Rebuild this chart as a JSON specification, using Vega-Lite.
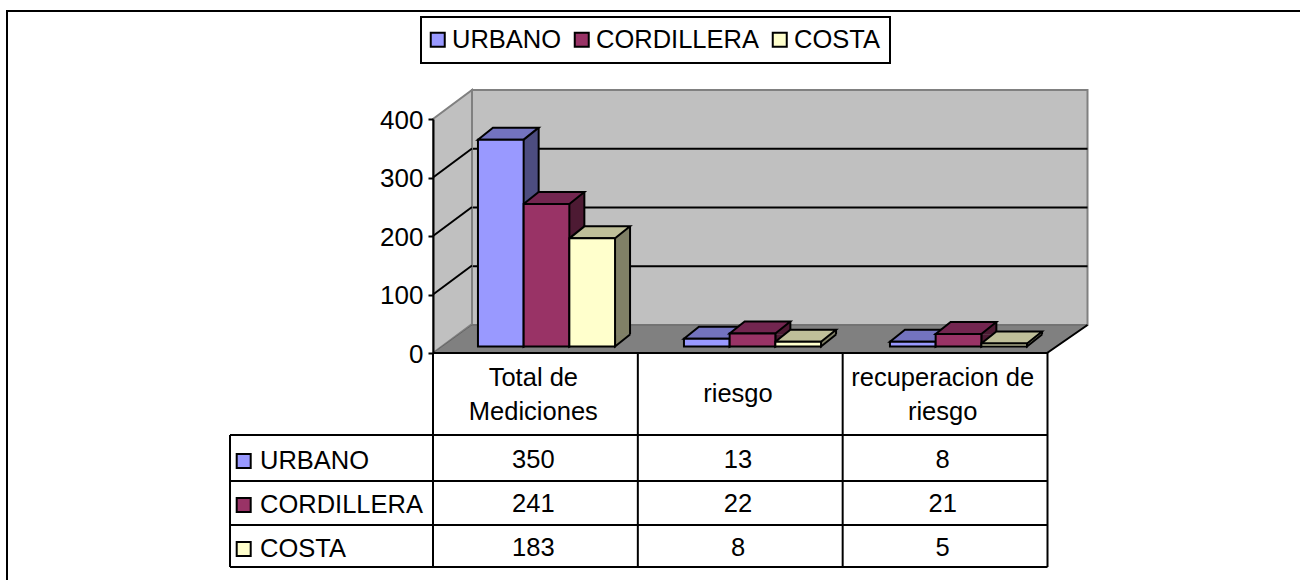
{
"$schema":"https://vega.github.io/schema/vega-lite/v6.json",
"width":1300,"height":580,"padding":0,"autosize":{"type":"none"},"background":"white",
"config":{"view":{"stroke":null},"font":"Liberation Sans","legend":{"strokeWidth":2},"text":{"font":"Liberation Sans","fontSize":25.5,"color":"#000000"}},
"datasets":{
"mediciones":[
{"categoria":"Total de Mediciones","serie":"URBANO","valor":350},
{"categoria":"Total de Mediciones","serie":"CORDILLERA","valor":241},
{"categoria":"Total de Mediciones","serie":"COSTA","valor":183},
{"categoria":"riesgo","serie":"URBANO","valor":13},
{"categoria":"riesgo","serie":"CORDILLERA","valor":22},
{"categoria":"riesgo","serie":"COSTA","valor":8},
{"categoria":"recuperacion de riesgo","serie":"URBANO","valor":8},
{"categoria":"recuperacion de riesgo","serie":"CORDILLERA","valor":21},
{"categoria":"recuperacion de riesgo","serie":"COSTA","valor":5}
],
"uno":[{"p":1}],
"marcas":[{"t":100},{"t":200},{"t":300}],
"ticks":[{"t":0},{"t":100},{"t":200},{"t":300},{"t":400}],
"cabecera2":[{"categoria":"Total de Mediciones","rotulo":"Total de\nMediciones"},{"categoria":"recuperacion de riesgo","rotulo":"recuperacion de\nriesgo"}],
"cabecera1":[{"categoria":"riesgo","rotulo":"riesgo"}],
"series":[{"serie":"URBANO"},{"serie":"CORDILLERA"},{"serie":"COSTA"}],
"filasTabla":[{"f":0},{"f":1},{"f":2},{"f":3}],
"colsAltas":[{"c":1},{"c":2},{"c":3},{"c":4}]
},
"data":{"name":"mediciones"},
"resolve":{"scale":{"x":"independent","y":"independent","color":"independent"}},
"layer":[
{"data":{"name":"uno"},"mark":{"type":"rect","fill":null,"fillOpacity":0,"stroke":"#000000","strokeWidth":2,"clip":true},
"encoding":{"x":{"datum":0,"type":"quantitative","axis":null,"scale":{"domain":[0,1],"range":[7,1320]}},"x2":{"datum":1},"y":{"datum":0,"type":"quantitative","axis":null,"scale":{"domain":[0,1],"range":[11,600]}},"y2":{"datum":1}}},

{"data":{"name":"uno"},"mark":{"type":"rect","fill":"#C0C0C0","stroke":"#808080","strokeWidth":2},
"encoding":{"x":{"datum":0,"type":"quantitative","axis":null,"scale":{"domain":[0,1],"range":[472,1087.5]}},"x2":{"datum":1},"y":{"datum":0,"type":"quantitative","axis":null,"scale":{"domain":[0,400],"range":[325,90]}},"y2":{"datum":400}}},
{"data":{"name":"marcas"},"mark":{"type":"rule","stroke":"#000000","strokeWidth":2},
"encoding":{"x":{"datum":0,"type":"quantitative","axis":null,"scale":{"domain":[0,1],"range":[472,1087.5]}},"x2":{"datum":1},"y":{"field":"t","type":"quantitative","axis":null,"scale":{"domain":[0,400],"range":[325,90]}}}},

{"data":{"name":"uno"},"mark":{"type":"point","filled":true,"opacity":1,"size":4,"shape":"M0,0 L39,-29 L39,-263 L0,-234 Z","fill":"#C0C0C0","stroke":"#808080","strokeWidth":2},
"encoding":{"x":{"datum":0,"type":"quantitative","axis":null,"scale":{"domain":[0,1],"range":[433,1047]}},"y":{"datum":0,"type":"quantitative","axis":null,"scale":{"domain":[0,400],"range":[353,119]}}}},
{"data":{"name":"uno"},"mark":{"type":"point","filled":true,"opacity":1,"size":4,"shape":"M0,0 L39,-28 L654.5,-28 L614,0 Z","fill":"#808080","stroke":"#666666","strokeWidth":1},
"encoding":{"x":{"datum":0,"type":"quantitative","axis":null,"scale":{"domain":[0,1],"range":[433,1047]}},"y":{"datum":0,"type":"quantitative","axis":null,"scale":{"domain":[0,400],"range":[353,119]}}}},
{"data":{"name":"uno"},"mark":{"type":"point","filled":false,"opacity":1,"size":4,"shape":"M0,0 L614,0 L654.5,-28","stroke":"#000000","strokeWidth":2},
"encoding":{"x":{"datum":0,"type":"quantitative","axis":null,"scale":{"domain":[0,1],"range":[433,1047]}},"y":{"datum":0,"type":"quantitative","axis":null,"scale":{"domain":[0,400],"range":[353,119]}}}},
{"data":{"name":"marcas"},"mark":{"type":"point","filled":false,"opacity":1,"size":4,"shape":"M0,0 L39,-29","stroke":"#000000","strokeWidth":2},
"encoding":{"x":{"datum":0,"type":"quantitative","axis":null,"scale":{"domain":[0,1],"range":[433,1047]}},"y":{"field":"t","type":"quantitative","axis":null,"scale":{"domain":[0,400],"range":[353,119]}}}},

{"data":{"name":"ticks"},"mark":{"type":"rule","opacity":0},
"encoding":{"y":{"field":"t","type":"quantitative","scale":{"domain":[0,400],"range":[353,119]},"axis":{"title":null,"offset":-433,"values":[0,100,200,300,400],"grid":false,"domainColor":"#000000","domainWidth":2,"tickColor":"#000000","tickWidth":2,"tickSize":5,"labelFont":"Liberation Sans","labelFontSize":26,"labelColor":"#000000","labelPadding":5,"labelOffset":1,"zindex":1}}}},

{"mark":{"type":"bar","width":15},
"encoding":{"x":{"field":"categoria","type":"nominal","axis":null,"sort":null,"scale":{"domain":["Total de Mediciones","riesgo","recuperacion de riesgo"],"range":[473.85,1091.85],"padding":0}},
"xOffset":{"field":"serie","type":"nominal","sort":null,"scale":{"domain":["URBANO","CORDILLERA","COSTA"],"range":[0,206],"paddingInner":0,"paddingOuter":0.754}},
"y":{"field":"valor","type":"quantitative","axis":null,"scale":{"domain":[0,400],"range":[334.5,98.1]}},
"color":{"field":"serie","type":"nominal","legend":null,"scale":{"domain":["URBANO","CORDILLERA","COSTA"],"range":["#4D4D80","#4D1A33","#808066"]}}}},
{"mark":{"type":"rule","stroke":"#000000","strokeWidth":2},
"encoding":{"x":{"field":"categoria","type":"nominal","axis":null,"sort":null,"scale":{"domain":["Total de Mediciones","riesgo","recuperacion de riesgo"],"range":[481.35,1099.35],"padding":0}},
"xOffset":{"field":"serie","type":"nominal","sort":null,"scale":{"domain":["URBANO","CORDILLERA","COSTA"],"range":[0,206],"paddingInner":0,"paddingOuter":0.754}},
"y":{"field":"valor","type":"quantitative","axis":null,"scale":{"domain":[0,400],"range":[334.5,98.1]}},"y2":{"datum":0}}},
{"mark":{"type":"point","filled":true,"opacity":1,"size":4,"shape":"M15,-12 L0,0 L0,-12","stroke":"#000000","strokeWidth":2},
"encoding":{"x":{"field":"categoria","type":"nominal","axis":null,"sort":null,"scale":{"domain":["Total de Mediciones","riesgo","recuperacion de riesgo"],"range":[466.35,1084.35],"padding":0}},
"xOffset":{"field":"serie","type":"nominal","sort":null,"scale":{"domain":["URBANO","CORDILLERA","COSTA"],"range":[0,206],"paddingInner":0,"paddingOuter":0.754}},
"y":{"datum":0,"type":"quantitative","axis":null,"scale":{"domain":[0,400],"range":[346.5,110.1]}},
"color":{"field":"serie","type":"nominal","legend":null,"scale":{"domain":["URBANO","CORDILLERA","COSTA"],"range":["#4D4D80","#4D1A33","#808066"]}}}},
{"mark":{"type":"point","filled":true,"opacity":1,"size":4,"shape":"M-22.85,0 L22.85,0 L37.85,-12 L-7.85,-12 Z","stroke":"#000000","strokeWidth":2},
"encoding":{"x":{"field":"categoria","type":"nominal","axis":null,"sort":null,"scale":{"domain":["Total de Mediciones","riesgo","recuperacion de riesgo"],"range":[443.5,1061.5],"padding":0}},
"xOffset":{"field":"serie","type":"nominal","sort":null,"scale":{"domain":["URBANO","CORDILLERA","COSTA"],"range":[0,206],"paddingInner":0,"paddingOuter":0.754}},
"y":{"field":"valor","type":"quantitative","axis":null,"scale":{"domain":[0,400],"range":[346.5,110.1]}},
"color":{"field":"serie","type":"nominal","legend":null,"scale":{"domain":["URBANO","CORDILLERA","COSTA"],"range":["#7373BF","#732650","#BFBF99"]}}}},
{"mark":{"type":"bar","stroke":"#000000","strokeWidth":2},
"encoding":{"x":{"field":"categoria","type":"nominal","axis":null,"sort":null,"scale":{"domain":["Total de Mediciones","riesgo","recuperacion de riesgo"],"range":[443.5,1061.5],"padding":0}},
"xOffset":{"field":"serie","type":"nominal","sort":null,"scale":{"domain":["URBANO","CORDILLERA","COSTA"],"range":[0,206],"paddingInner":0,"paddingOuter":0.754}},
"y":{"field":"valor","type":"quantitative","axis":null,"scale":{"domain":[0,400],"range":[346.5,110.1]}},
"color":{"field":"serie","type":"nominal","scale":{"domain":["URBANO","CORDILLERA","COSTA"],"range":["#9999FF","#993366","#FFFFCC"]},
"legend":{"title":null,"orient":"none","legendX":421,"legendY":17,"direction":"horizontal","columns":3,"padding":9.5,"columnPadding":9,"labelOffset":1.5,"symbolOffset":-5.5,"labelLimit":400,"symbolType":"square","symbolSize":196,"symbolStrokeColor":"#000000","symbolStrokeWidth":2,"symbolOpacity":1,"labelFont":"Liberation Sans","labelFontSize":25.5,"labelColor":"#000000","strokeColor":"#000000","fillColor":"#FFFFFF"}}}},

{"data":{"name":"filasTabla"},"mark":{"type":"rule","stroke":"#000000","strokeWidth":2},
"encoding":{"y":{"field":"f","type":"quantitative","axis":null,"scale":{"domain":[0,1,2,3],"range":[435,481,525,567]}},
"x":{"datum":0,"type":"quantitative","axis":null,"scale":{"domain":[0,1,4],"range":[230,433,1047.5]}},"x2":{"datum":4}}},
{"data":{"name":"colsAltas"},"mark":{"type":"rule","stroke":"#000000","strokeWidth":2},
"encoding":{"x":{"field":"c","type":"quantitative","axis":null,"scale":{"domain":[0,1,4],"range":[230,433,1047.5]}},
"y":{"datum":-1,"type":"quantitative","axis":null,"scale":{"domain":[-1,0,1,2,3],"range":[353,435,481,525,567]}},"y2":{"datum":3}}},
{"data":{"name":"uno"},"mark":{"type":"rule","stroke":"#000000","strokeWidth":2},
"encoding":{"x":{"datum":0,"type":"quantitative","axis":null,"scale":{"domain":[0,1,4],"range":[230,433,1047.5]}},
"y":{"datum":0,"type":"quantitative","axis":null,"scale":{"domain":[-1,0,1,2,3],"range":[353,435,481,525,567]}},"y2":{"datum":3}}},

{"data":{"name":"cabecera2"},"mark":{"type":"text","lineBreak":"\n","lineHeight":34,"align":"center","baseline":"middle"},
"encoding":{"x":{"field":"categoria","type":"nominal","axis":null,"sort":null,"scale":{"type":"band","domain":["Total de Mediciones","riesgo","recuperacion de riesgo"],"range":[431,1045],"padding":0}},
"y":{"datum":0,"type":"quantitative","axis":null,"scale":{"domain":[0,1],"range":[378,0]}},
"text":{"field":"rotulo","type":"nominal"}}},
{"data":{"name":"cabecera1"},"mark":{"type":"text","align":"center","baseline":"middle"},
"encoding":{"x":{"field":"categoria","type":"nominal","axis":null,"sort":null,"scale":{"type":"band","domain":["Total de Mediciones","riesgo","recuperacion de riesgo"],"range":[431,1045],"padding":0}},
"y":{"datum":0,"type":"quantitative","axis":null,"scale":{"domain":[0,1],"range":[393.5,0]}},
"text":{"field":"rotulo","type":"nominal"}}},
{"mark":{"type":"text","align":"center","baseline":"middle"},
"encoding":{"x":{"field":"categoria","type":"nominal","axis":null,"sort":null,"scale":{"type":"band","domain":["Total de Mediciones","riesgo","recuperacion de riesgo"],"range":[431,1045],"padding":0}},
"y":{"field":"serie","type":"nominal","axis":null,"sort":null,"scale":{"type":"band","domain":["URBANO","CORDILLERA","COSTA"],"range":[437.5,569.5],"padding":0}},
"text":{"field":"valor","type":"quantitative"}}},
{"data":{"name":"series"},"mark":{"type":"text","align":"left","baseline":"middle"},
"encoding":{"x":{"datum":0,"type":"quantitative","axis":null,"scale":{"domain":[0,1],"range":[260,1300]}},
"y":{"field":"serie","type":"nominal","axis":null,"sort":null,"scale":{"type":"band","domain":["URBANO","CORDILLERA","COSTA"],"range":[439,571],"padding":0}},
"text":{"field":"serie","type":"nominal"}}},
{"data":{"name":"series"},"mark":{"type":"point","shape":"square","size":196,"filled":true,"opacity":1,"stroke":"#000000","strokeWidth":2},
"encoding":{"x":{"datum":0,"type":"quantitative","axis":null,"scale":{"domain":[0,1],"range":[243.7,1300]}},
"y":{"field":"serie","type":"nominal","axis":null,"sort":null,"scale":{"type":"band","domain":["URBANO","CORDILLERA","COSTA"],"range":[439,571],"padding":0}},
"color":{"field":"serie","type":"nominal","legend":null,"scale":{"domain":["URBANO","CORDILLERA","COSTA"],"range":["#9999FF","#993366","#FFFFCC"]}}}}
]
}
